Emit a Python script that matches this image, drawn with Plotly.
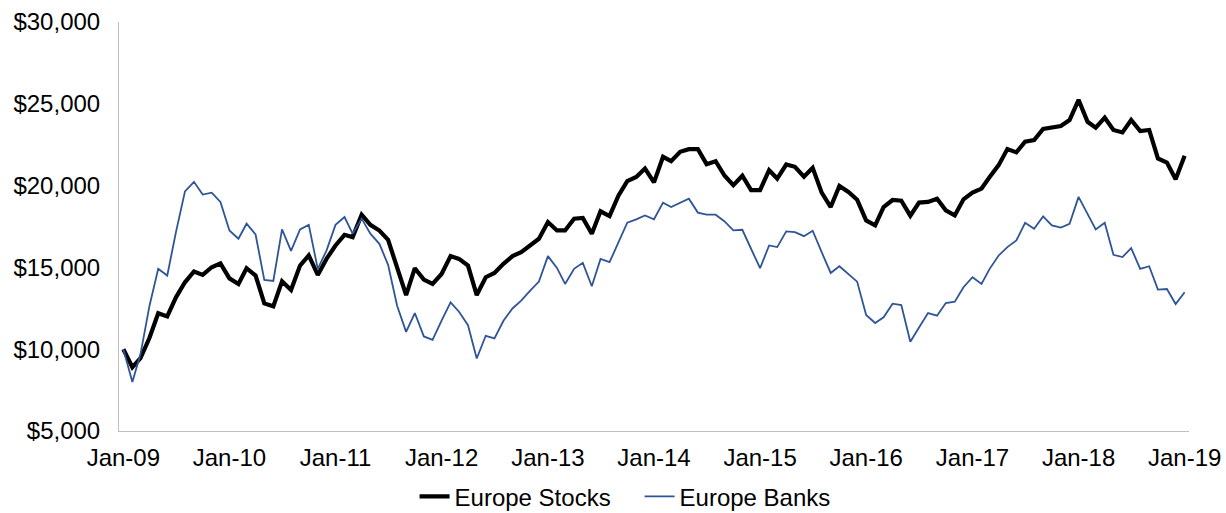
import pandas as pd
import plotly.graph_objects as go

months = pd.date_range("2009-01-01", periods=121, freq="MS")

europe_stocks = [
    10000, 8900, 9450, 10700, 12200, 12000, 13170, 14090, 14750, 14540, 15010, 15250,
    14330, 13990, 14950, 14500, 12800, 12620, 14150, 13620, 15110, 15730, 14540, 15520,
    16340, 16990, 16850, 18220, 17600, 17250, 16680, 15010, 13310, 14950, 14250, 13990,
    14600, 15690, 15520, 15110, 13310, 14400, 14660, 15220, 15690, 15930, 16340, 16750,
    17770, 17260, 17260, 17980, 18020, 17060, 18430, 18140, 19400, 20270, 20530, 21040,
    20200, 21760, 21490, 22070, 22230, 22230, 21310, 21490, 20600, 20020, 20600, 19720,
    19720, 20940, 20430, 21290, 21150, 20540, 21090, 19570, 18690, 19980, 19610, 19140,
    17870, 17570, 18690, 19120, 19080, 18160, 18960, 19000, 19200, 18490, 18180, 19160,
    19570, 19820, 20530, 21250, 22230, 22030, 22680, 22780, 23460, 23560, 23640, 24010,
    25240, 23900, 23540, 24150, 23400, 23250, 24010, 23330, 23400, 21660, 21410, 20390,
    21820,
]

europe_banks = [
    10000, 8000, 9700, 12660, 14910, 14500, 17160, 19650, 20230, 19450, 19570, 19000,
    17260, 16750, 17670, 17010, 14230, 14170, 17320, 16010, 17320, 17600, 14910, 16030,
    17600, 18080, 17060, 17980, 17060, 16440, 15160, 12660, 11060, 12210, 10780, 10570,
    11740, 12860, 12290, 11470, 9430, 10820, 10660, 11740, 12490, 12970, 13580, 14130,
    15690, 14970, 13990, 14910, 15280, 13850, 15520, 15320, 16540, 17730, 17940, 18180,
    17940, 18960, 18690, 18960, 19200, 18350, 18220, 18220, 17810, 17260, 17300, 16140,
    14950, 16340, 16240, 17200, 17160, 16910, 17240, 15930, 14660, 15070, 14600, 14130,
    12090, 11600, 11950, 12780, 12700, 10460, 11330, 12210, 12050, 12820, 12900, 13790,
    14400, 13990, 14910, 15730, 16240, 16650, 17730, 17360, 18120, 17570, 17430, 17670,
    19310, 18280, 17320, 17730, 15770, 15630, 16180, 14910, 15070, 13640, 13680, 12760,
    13480,
]

y_ticks = [5000, 10000, 15000, 20000, 25000, 30000]
y_tick_labels = ["$5,000", "$10,000", "$15,000", "$20,000", "$25,000", "$30,000"]

FONT = "Liberation Sans, Arial, Helvetica, sans-serif"
FS = 24

fig = go.Figure()
fig.add_trace(go.Scatter(
    x=months, y=europe_stocks, mode="lines", name="Europe Stocks",
    line=dict(color="#000000", width=4.2),
))
fig.add_trace(go.Scatter(
    x=months, y=europe_banks, mode="lines", name="Europe Banks",
    line=dict(color="#2F5597", width=1.8),
))

fig.update_layout(
    width=1226, height=513,
    margin=dict(l=119, r=37, t=22, b=82, autoexpand=False),
    paper_bgcolor="white", plot_bgcolor="white",
    font=dict(family=FONT, size=FS, color="#000000"),
    showlegend=True,
    legend=dict(
        orientation="h", x=0.4865, xanchor="center", y=-0.161, yanchor="middle",
        font=dict(family=FONT, size=FS), itemwidth=30, tracegroupgap=0,
        entrywidth=180, entrywidthmode="pixels",
    ),
)

fig.update_xaxes(
    type="date",
    range=["2008-12-17", "2019-01-16"],
    tick0="2009-01-01", dtick="M12", tickformat="%b-%y",
    showgrid=False, zeroline=False,
    showline=True, linecolor="#BFBFBF", linewidth=1,
    ticks="outside", ticklen=5, tickcolor="rgba(0,0,0,0)",
    tickfont=dict(family=FONT, size=FS),
)
fig.update_yaxes(
    range=[5000, 30000],
    tickvals=y_ticks, ticktext=y_tick_labels,
    showgrid=False, zeroline=False,
    showline=True, linecolor="#BFBFBF", linewidth=1,
    ticks="outside", ticklen=13, tickcolor="rgba(0,0,0,0)",
    tickfont=dict(family=FONT, size=FS),
)

fig.write_html(
    "out.html",
    config={"displayModeBar": False},
    post_script="document.body.style.margin='0';document.body.style.overflow='hidden';",
)
